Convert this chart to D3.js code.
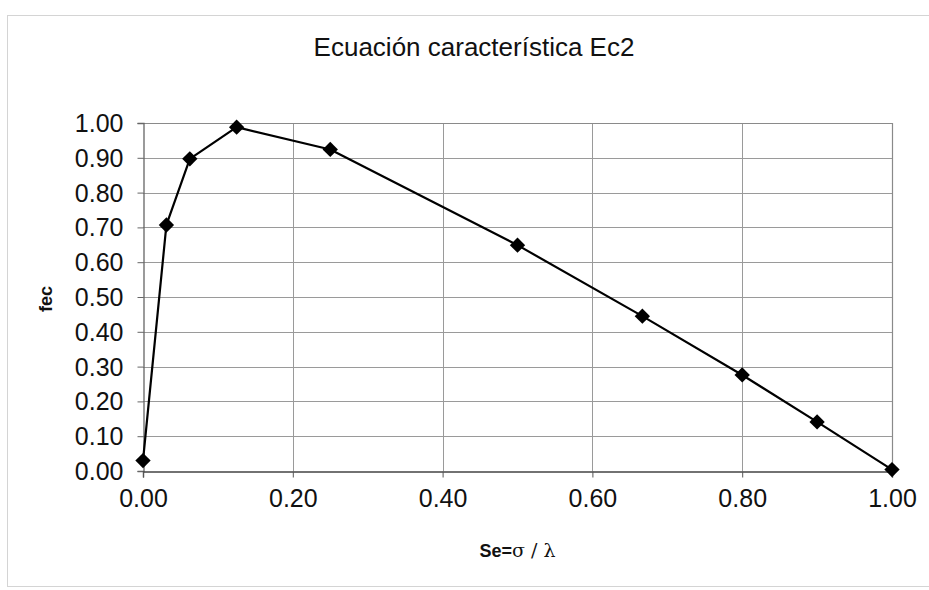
<!DOCTYPE html>
<html>
<head>
<meta charset="utf-8">
<script src="https://cdn.jsdelivr.net/npm/d3@7"></script>
<style>
  html, body { margin: 0; padding: 0; background: #fff; }
  svg { display: block; }
  text { font-family: "Liberation Sans", Arial, sans-serif; fill: #111; }
</style>
</head>
<body>
<svg id="chart" width="929" height="590"></svg>
<script>
// Characteristic equation Ec2: fec versus Se = sigma / lambda
const seValues  = [0, 0.03125, 0.0625, 0.125, 0.25, 0.5, 0.6667, 0.8, 0.9, 1.0];
const fecValues = [0.030, 0.707, 0.897, 0.988, 0.924, 0.649, 0.445, 0.276, 0.141, 0.004];
const xTicks = [0, 0.2, 0.4, 0.6, 0.8, 1.0];
const yTicks = [0, 0.1, 0.2, 0.3, 0.4, 0.5, 0.6, 0.7, 0.8, 0.9, 1.0];
const chartTitle = "Ecuación característica Ec2";
const yTitle = "fec";

const svg = d3.select("#chart");
const plot = { left: 143, right: 892, top: 123, bottom: 471 };

// chart frame
svg.append("rect")
  .attr("x", 7.5).attr("y", 15.5)
  .attr("width", 940).attr("height", 571)
  .attr("fill", "#fff").attr("stroke", "#d4d4d4").attr("stroke-width", 1);

const x = d3.scaleLinear().domain([0, 1]).range([plot.left, plot.right]);
const y = d3.scaleLinear().domain([0, 1]).range([plot.bottom, plot.top]);

// horizontal gridlines
svg.append("g")
  .selectAll("line").data(yTicks.filter(d => d > 0)).join("line")
  .attr("x1", plot.left).attr("x2", plot.right)
  .attr("y1", d => Math.round(y(d)) + 0.5).attr("y2", d => Math.round(y(d)) + 0.5)
  .attr("stroke", "#9a9a9a").attr("stroke-width", 1);

// vertical gridlines
svg.append("g")
  .selectAll("line").data(xTicks.filter(d => d > 0)).join("line")
  .attr("y1", plot.top).attr("y2", plot.bottom)
  .attr("x1", d => Math.round(x(d)) + 0.5).attr("x2", d => Math.round(x(d)) + 0.5)
  .attr("stroke", "#9a9a9a").attr("stroke-width", 1);

// plot area border (top / right)
svg.append("path")
  .attr("d", `M${plot.left},${plot.top + 0.5}H${plot.right + 0.5}V${plot.bottom}`)
  .attr("fill", "none").attr("stroke", "#8a8a8a").attr("stroke-width", 1.2);

// y axis
const yAxis = svg.append("g")
  .attr("transform", `translate(${plot.left + 0.5},0)`)
  .call(d3.axisLeft(y).tickValues(yTicks).tickFormat(d3.format(".2f"))
    .tickSize(6).tickPadding(14));
yAxis.select(".domain").attr("stroke", "#666").attr("stroke-width", 1.3);
yAxis.selectAll(".tick line").attr("stroke", "#666");
yAxis.selectAll(".tick text")
  .attr("font-size", 25).attr("font-family", "Liberation Sans, Arial, sans-serif")
  .attr("fill", "#111").attr("dy", "0.34em");

// x axis
const xAxis = svg.append("g")
  .attr("transform", `translate(0,${plot.bottom + 0.5})`)
  .call(d3.axisBottom(x).tickValues(xTicks).tickFormat(d3.format(".2f"))
    .tickSize(6).tickPadding(12));
xAxis.select(".domain").attr("stroke", "#444").attr("stroke-width", 1.4);
xAxis.selectAll(".tick line").attr("stroke", "#555");
xAxis.selectAll(".tick text")
  .attr("font-size", 25).attr("font-family", "Liberation Sans, Arial, sans-serif")
  .attr("fill", "#111").attr("dy", "0.71em");

// data line
const pts = seValues.map((v, i) => [v, fecValues[i]]);
svg.append("path")
  .datum(pts)
  .attr("fill", "none").attr("stroke", "#000").attr("stroke-width", 2.2)
  .attr("stroke-linejoin", "round")
  .attr("d", d3.line().x(d => x(d[0])).y(d => y(d[1])));

// diamond markers
svg.append("g")
  .selectAll("path").data(pts).join("path")
  .attr("transform", d => `translate(${x(d[0])},${y(d[1])})`)
  .attr("d", d3.symbol().type(d3.symbolDiamond2).size(150))
  .attr("fill", "#000");

// title
svg.append("text")
  .attr("x", 474).attr("y", 56)
  .attr("text-anchor", "middle")
  .attr("font-size", 26)
  .text(chartTitle);

// y axis title
svg.append("text")
  .attr("transform", `translate(52,${(plot.top + plot.bottom) / 2 + 2}) rotate(-90)`)
  .attr("text-anchor", "middle")
  .attr("font-size", 18).attr("font-weight", "bold")
  .text(yTitle);

// x axis title: Se = sigma / lambda
const xt = svg.append("text")
  .attr("x", (plot.left + plot.right) / 2).attr("y", 557)
  .attr("text-anchor", "middle")
  .attr("font-size", 18);
xt.append("tspan").attr("font-weight", "bold").text("Se=");
xt.append("tspan").attr("font-family", "DejaVu Serif, serif").attr("font-size", 19).text("σ / λ");
</script>
</body>
</html>
